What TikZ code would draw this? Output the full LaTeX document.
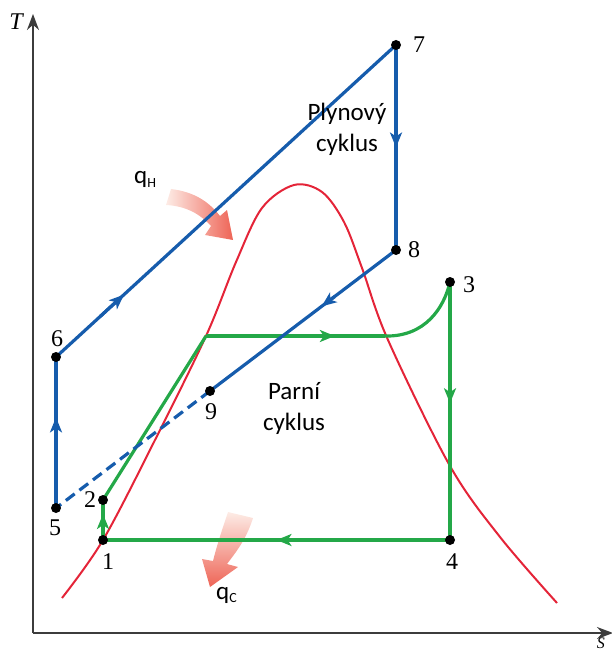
\documentclass[tikz,border=0pt]{standalone}
\usepackage{fontspec}
\setmainfont{Liberation Serif}
\newfontfamily\carl{Carlito}
\usetikzlibrary{arrows.meta,calc}
\definecolor{cblue}{RGB}{22,92,172}
\definecolor{cgreen}{RGB}{36,168,72}
\definecolor{cred}{RGB}{228,36,56}
\definecolor{caxis}{RGB}{60,60,60}
\definecolor{salm}{RGB}{238,100,86}
\definecolor{pinkl}{RGB}{253,236,230}
\tikzset{
  bline/.style={cblue,line width=3.2pt},
  gline/.style={cgreen,line width=3.2pt},
  rline/.style={cred,line width=2pt},
  tipb/.style={cblue,line width=3.2pt,-{Stealth[length=15pt,width=12pt,inset=4pt]}},
  tipg/.style={cgreen,line width=3.2pt,-{Stealth[length=15pt,width=12pt,inset=4pt]}},
  dot/.style={circle,fill=black,inner sep=0pt,minimum size=10pt},
  num/.style={font=\fontsize{24}{26}\selectfont,inner sep=0pt},
  ctext/.style={font=\carl\fontsize{25}{31}\selectfont,align=center,inner sep=0pt},
  axis/.style={caxis,line width=1.8pt,-{Stealth[length=16pt,width=12pt]}}
}
\newcommand{\midtip}[4]{\draw[#1] ($(#2)!#4-0.07!(#3)$) -- ($(#2)!#4!(#3)$);}
\begin{document}
\begin{tikzpicture}[x=1pt,y=-1pt]
\useasboundingbox (0,0) rectangle (611,652);
% coordinates
\coordinate (o) at (33,633);
\coordinate (ty) at (33,14);
\coordinate (sx) at (613,633);
\coordinate (p1) at (103,540);
\coordinate (p2) at (103,500);
\coordinate (p3) at (450,282);
\coordinate (p4) at (450,540);
\coordinate (p5) at (56,508);
\coordinate (p6) at (56,357);
\coordinate (p7) at (396,45);
\coordinate (p8) at (396,250);
\coordinate (p9) at (210,391);
\coordinate (ka) at (206,336);
\coordinate (kb) at (385,336);
% heat arrows
\shade[left color=pinkl,right color=salm]
  (171,189) .. controls (195,192) and (209,202) .. (220,216)
  -- (227,210) -- (233,240) -- (205,235) -- (211,226)
  .. controls (200,214) and (186,206) .. (166,205) -- cycle;
\shade[top color=pinkl,bottom color=salm]
  (228,512) -- (253,518) .. controls (246,540) and (236,552) .. (227,564)
  -- (238,567) -- (210,587) -- (202,559) -- (213,561)
  .. controls (217,545) and (222,530) .. (228,512);
% axes
\draw[axis] (o) -- (ty);
\draw[axis] (o) -- (sx);
\node[font=\itshape\fontsize{24}{26}\selectfont,inner sep=0pt] (tl) at (16,22) {T};
\node[font=\itshape\fontsize{16}{18}\selectfont,inner sep=0pt,anchor=base east] (sl) at (605,648) {S};
% red saturation dome
\draw[rline] plot[smooth,tension=0.55] coordinates {(62,598) (103,540) (155,440) (206,336) (236,262) (262,208) (294,185) (322,192) (344,222) (362,268) (388,340) (450,466) (500,537) (557,603)};
% green steam cycle
\draw[gline] (p1) -- (p2);
\draw[gline] (p2) -- (ka);
\draw[gline] (ka) -- (kb);
\draw[gline] (kb) .. controls (425,337) and (444,308) .. (p3);
\draw[gline] (p3) -- (p4);
\draw[gline] (p4) -- (p1);
\midtip{tipg}{p1}{p2}{0.65}
\midtip{tipg}{ka}{kb}{0.72}
\midtip{tipg}{p3}{p4}{0.47}
\midtip{tipg}{p4}{p1}{0.5}
% blue gas cycle
\draw[bline] (p5) -- (p6);
\draw[bline] (p6) -- (p7);
\draw[bline] (p7) -- (p8);
\draw[bline] (p8) -- (p9);
\draw[bline,dash pattern=on 11pt off 6pt] (p9) -- (p5);
\midtip{tipb}{p5}{p6}{0.6}
\midtip{tipb}{p6}{p7}{0.2}
\midtip{tipb}{p7}{p8}{0.5}
\midtip{tipb}{p8}{p9}{0.4}
% dots
\foreach \i in {1,...,9} {\node[dot] (d\i) at (p\i) {};}
% labels
\node[num] (l1) at (108,562) {1};
\node[num] (l2) at (90,500) {2};
\node[num] (l3) at (469,285) {3};
\node[num] (l4) at (452,562) {4};
\node[num] (l5) at (55,528) {5};
\node[num] (l6) at (57,339) {6};
\node[num] (l7) at (419,45) {7};
\node[num] (l8) at (414,250) {8};
\node[num] (l9) at (211,412) {9};
\node[ctext,anchor=base] (gas) at (347,152) {Plynový\\cyklus};
\node[ctext,anchor=base] (steam) at (294,430) {Parní\\cyklus};
\node[font=\carl\fontsize{25}{28}\selectfont,inner sep=0pt,anchor=base west] (qh) at (134,184) {q\textsubscript{\fontsize{14}{14}\selectfont H}};
\node[font=\carl\fontsize{25}{28}\selectfont,inner sep=0pt,anchor=base west] (qc) at (216,599) {q\textsubscript{\fontsize{14}{14}\selectfont C}};
\end{tikzpicture}
\end{document}
